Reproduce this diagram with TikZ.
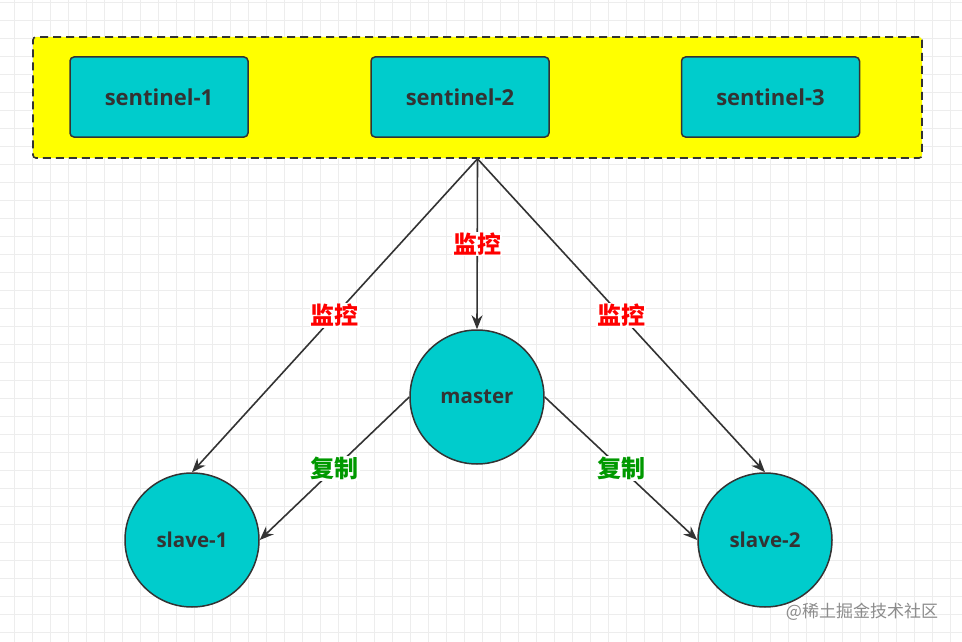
\documentclass[tikz,border=0pt]{standalone}
\usepackage{fontspec}
\setmainfont{Open Sans}
\newfontfamily\cjkfont{Noto Sans CJK SC}
\usetikzlibrary{arrows.meta}

\definecolor{nodeteal}{HTML}{00CCCC}
\definecolor{clusteryellow}{HTML}{FFFF00}
\definecolor{linegray}{HTML}{333333}
\definecolor{labelred}{HTML}{FF0000}
\definecolor{labelgreen}{HTML}{009900}

\begin{document}
\begin{tikzpicture}[x=1pt,y=-1pt,
  gridline/.style={draw=black!7,line width=0.7pt},
  cluster/.style={draw=linegray,fill=clusteryellow,line width=1.6pt,dash pattern=on 8pt off 5pt,rounded corners=3pt,minimum width=889pt,minimum height=121pt},
  sentinelbox/.style={draw=linegray,fill=nodeteal,line width=1.5pt,rounded corners=4pt,minimum width=178pt,minimum height=80pt,text=linegray,font=\fontsize{22}{22}\selectfont\bfseries},
  redisnode/.style={circle,draw=linegray,fill=nodeteal,line width=1.5pt,minimum size=134pt,inner sep=0pt,text=linegray,font=\fontsize{20.5}{20.5}\selectfont\bfseries},
  link/.style={draw=linegray,line width=1.6pt,-{Stealth[length=14pt,width=11pt]}},
  monitor/.style={fill=white,inner sep=1pt,text=labelred,font=\fontsize{24}{24}\selectfont\cjkfont\bfseries},
  copying/.style={fill=white,inner sep=1pt,text=labelgreen,font=\fontsize{24}{24}\selectfont\cjkfont\bfseries}]
\useasboundingbox (0,0) rectangle (962,642);
\fill[white] (0,0) rectangle (962,642);
% grid background
\foreach \gx in {14,32,...,950}
  \draw[gridline] (\gx,0) -- (\gx,642);
\foreach \gy in {2,20,...,640}
  \draw[gridline] (0,\gy) -- (962,\gy);

% sentinels
\node [cluster] (cluster) at (477.5,97.5) {};
\node [sentinelbox] (s1) at (159,97) {sentinel-1};
\node [sentinelbox] (s2) at (460,97) {sentinel-2};
\node [sentinelbox] (s3) at (770.5,97) {sentinel-3};

% redis nodes
\node [redisnode] (master) at (477,397) {master};
\node [redisnode] (slave1) at (192,540) {slave-1};
\node [redisnode] (slave2) at (765,540) {slave-2};

% monitoring
\draw [link] (cluster.south) -- node [monitor] {监控} (master.north);
\draw [link] (cluster.south) -- node [monitor] {监控} (slave1.north);
\draw [link] (cluster.south) -- node [monitor] {监控} (slave2.north);

% replication
\draw [link] (master.west) -- node [copying] {复制} (slave1.east);
\draw [link] (master.east) -- node [copying] {复制} (slave2.west);

\node [text=black!45,font=\fontsize{17}{17}\selectfont\cjkfont] (mark) at (862,612) {@稀土掘金技术社区};
\end{tikzpicture}
\end{document}
